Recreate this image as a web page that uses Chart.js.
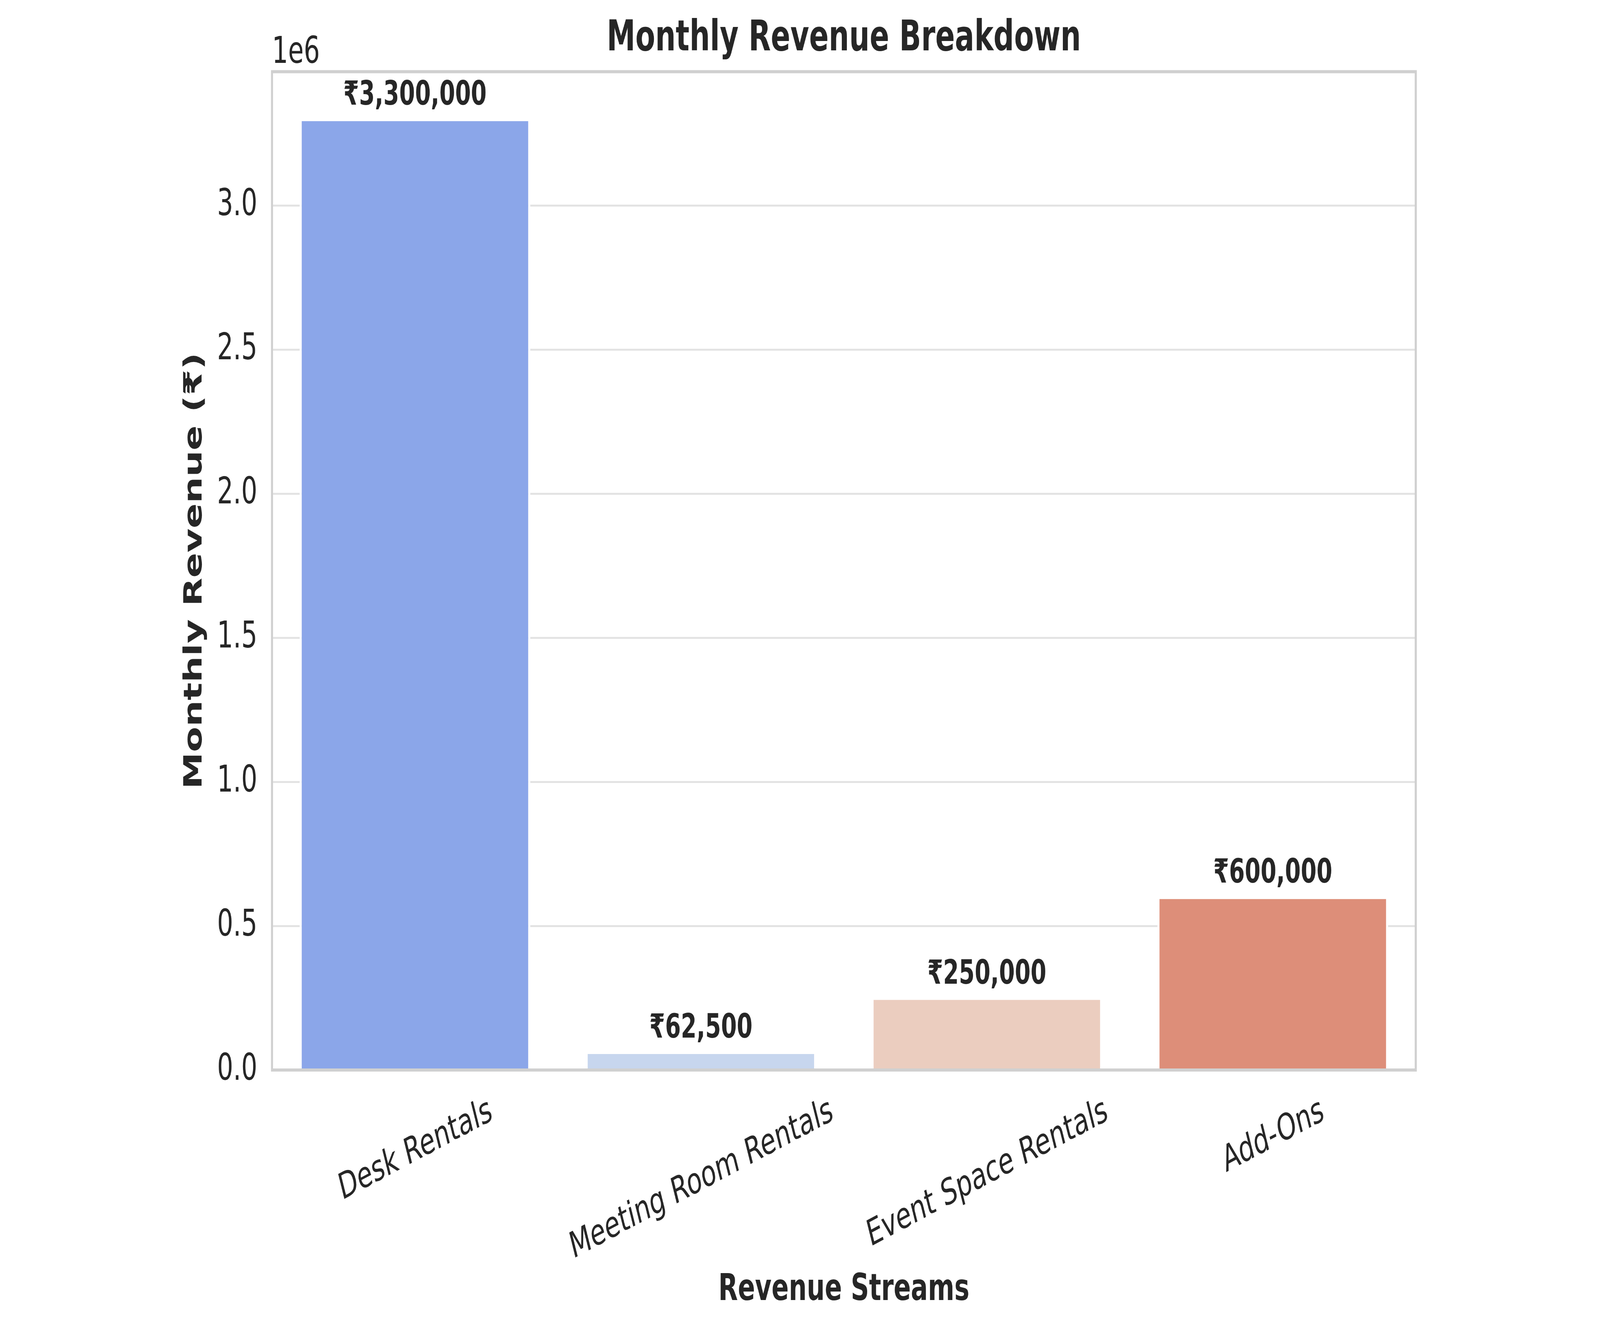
<!DOCTYPE html>
<html>
<head>
<meta charset="utf-8">
<title>Monthly Revenue Breakdown</title>
<script src="https://cdn.jsdelivr.net/npm/chart.js@4.4.1/dist/chart.umd.min.js"></script>
<style>
  html, body { margin: 0; padding: 0; background: #ffffff; overflow: hidden; }
  canvas { display: block; }
</style>
</head>
<body>
<canvas id="revenueChart" width="6000" height="3375"></canvas>
<script>
const categories = ['Desk Rentals', 'Meeting Room Rentals', 'Event Space Rentals', 'Add-Ons'];
const revenue = [3300000, 62500, 250000, 600000];
const yTickValues = [0, 500000, 1000000, 1500000, 2000000, 2500000, 3000000];
const yMax = 3465000; // top bar + 5% headroom

const barColors = ['#8ba6e9', '#c7d6ee', '#ebcdbf', '#dd8e79'];
const textColor = '#262626';

Chart.defaults.font.family = "'DejaVu Sans', sans-serif";
Chart.defaults.color = textColor;

// box round the plot, the "1e6" offset text and the ₹ labels over the bars
const frameAndLabels = {
    id: 'frameAndLabels',
    afterDatasetsDraw(chart) {
        const {ctx, chartArea} = chart;
        ctx.save();
        ctx.strokeStyle = '#d0d0d0';
        ctx.lineWidth = 8;
        ctx.strokeRect(chartArea.left, chartArea.top,
            chartArea.right - chartArea.left, chartArea.bottom - chartArea.top);

        ctx.fillStyle = textColor;
        ctx.font = "bold 85px 'DejaVu Sans'";
        ctx.textAlign = 'center';
        ctx.textBaseline = 'alphabetic';
        chart.getDatasetMeta(0).data.forEach((bar, i) => {
            ctx.fillText('₹' + revenue[i].toLocaleString('en-US'), bar.x, bar.y - 37);
        });

        ctx.font = "95px 'DejaVu Sans'";
        ctx.textAlign = 'left';
        ctx.fillText('1e6', chartArea.left, chartArea.top - 23);
        ctx.restore();
    }
};

// category labels turned 20 degrees, centred under each bar
const slantedTicks = {
    id: 'slantedTicks',
    afterDraw(chart) {
        const {ctx, chartArea, scales: {x}} = chart;
        const size = 93;
        const angle = 20 * Math.PI / 180;
        ctx.save();
        ctx.font = size + "px 'DejaVu Sans'";
        ctx.fillStyle = textColor;
        ctx.textAlign = 'center';
        ctx.textBaseline = 'alphabetic';
        categories.forEach((label, i) => {
            const w = ctx.measureText(label).width;
            const boxH = w * Math.sin(angle) + 1.164 * size * Math.cos(angle);
            ctx.save();
            ctx.translate(x.getPixelForValue(i), chartArea.bottom + 45 + boxH / 2);
            ctx.rotate(-angle);
            ctx.fillText(label, 0, 0.346 * size);
            ctx.restore();
        });
        ctx.restore();
    }
};

const revenueChart = new Chart(document.getElementById('revenueChart'), {
    type: 'bar',
    data: {
        labels: categories,
        datasets: [{
            label: 'Monthly Revenue (₹)',
            data: revenue,
            backgroundColor: barColors,
            borderColor: '#ffffff',
            borderWidth: {top: 5, right: 8, bottom: 0, left: 8},
            borderSkipped: false,
            barPercentage: 0.807,
            categoryPercentage: 1.0
        }]
    },
    options: {
        responsive: false,
        devicePixelRatio: 1,
        animation: false,
        layout: {
            padding: {left: 674, right: 691, top: 0, bottom: 0}
        },
        scales: {
            x: {
                grid: {display: false},
                border: {display: false},
                ticks: {display: false},
                title: {
                    display: true,
                    text: 'Revenue Streams',
                    font: {size: 95, weight: 'bold'},
                    padding: {top: 0, bottom: 14}
                },
                afterFit: (scale) => { scale.height = 635; }
            },
            y: {
                min: 0,
                max: yMax,
                grid: {color: '#e3e3e3', lineWidth: 5, drawTicks: false},
                border: {display: false},
                ticks: {
                    padding: 55,
                    font: {size: 95},
                    callback: (v) => (v / 1e6).toFixed(1)
                },
                // fixed tick values, the axis top is not a tick
                afterBuildTicks: (scale) => {
                    scale.ticks = yTickValues.map((v) => ({value: v}));
                },
                title: {
                    display: true,
                    text: 'Monthly Revenue (₹)',
                    font: {size: 95, weight: 'bold'},
                    padding: 0
                },
                afterFit: (scale) => { scale.width = 346; }
            }
        },
        plugins: {
            legend: {display: false},
            tooltip: {enabled: false},
            title: {
                display: true,
                text: 'Monthly Revenue Breakdown',
                fullSize: false,
                font: {size: 108, weight: 'bold'},
                padding: {top: 36, bottom: 18}
            }
        }
    },
    plugins: [frameAndLabels, slantedTicks]
});

// the window can come out narrower than 6000px: fit the whole 6000x3375 drawing into it
const canvas = document.getElementById('revenueChart');
canvas.style.width = window.innerWidth + 'px';
canvas.style.height = window.innerHeight + 'px';
</script>
</body>
</html>
